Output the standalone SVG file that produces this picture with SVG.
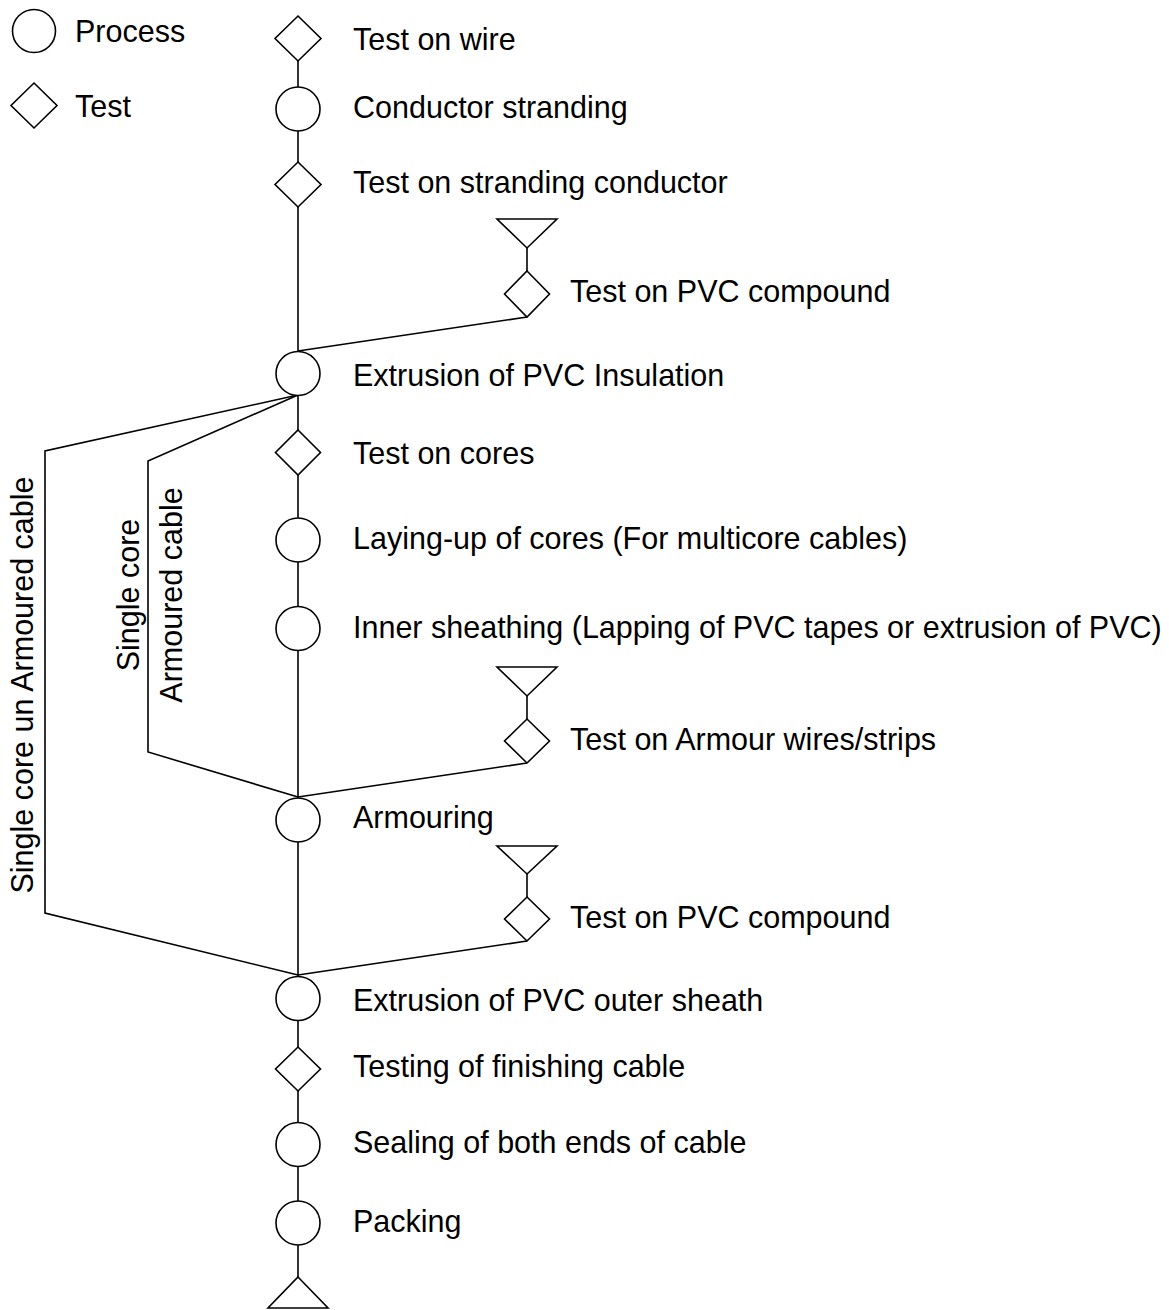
<svg xmlns="http://www.w3.org/2000/svg" width="1169" height="1310" viewBox="0 0 1169 1310">
<style>
.s{fill:#fff;stroke:#000;stroke-width:1.6}
.c{fill:none;stroke:#000;stroke-width:1.6}
text{font-family:"Liberation Sans",Arial,Helvetica,sans-serif;font-size:30.5px;fill:#000}
</style>
<rect width="1169" height="1310" fill="#fff"/>
<g id="connectors">
<polyline class="c" points="298,61 298,87"/>
<polyline class="c" points="298,131 298,162"/>
<polyline class="c" points="298,207 298,352"/>
<polyline class="c" points="527,248 527,271"/>
<polyline class="c" points="527,317 298,351"/>
<polyline class="c" points="298,395 298,430"/>
<polyline class="c" points="298,475 298,518"/>
<polyline class="c" points="298,562 298,607"/>
<polyline class="c" points="298,650 298,798"/>
<polyline class="c" points="527,696 527,719"/>
<polyline class="c" points="527,763 298,797"/>
<polyline class="c" points="298,395 148,461 148,752 298,797"/>
<polyline class="c" points="298,395 45,451 45,913 298,975"/>
<polyline class="c" points="298,842 298,977"/>
<polyline class="c" points="527,874 527,897"/>
<polyline class="c" points="527,941 298,975"/>
<polyline class="c" points="298,1020 298,1047"/>
<polyline class="c" points="298,1091 298,1123"/>
<polyline class="c" points="298,1166 298,1201"/>
<polyline class="c" points="298,1245 298,1277"/>
</g>
<g id="legend-process"><circle class="s" cx="34" cy="31" r="21.5"/><text x="75" y="42">Process</text></g>
<g id="legend-test"><polygon class="s" points="34,83 57,105.5 34,128 11,105.5"/><text x="75" y="117">Test</text></g>
<g id="n1"><polygon class="s" points="298,16 321,38.5 298,61 275,38.5"/><text x="353" y="50">Test on wire</text></g>
<g id="n2"><circle class="s" cx="298" cy="109" r="22"/><text x="353" y="118">Conductor stranding</text></g>
<g id="n3"><polygon class="s" points="298,162 321,184.5 298,207 275,184.5"/><text x="353" y="193">Test on stranding conductor</text></g>
<g id="src1"><polygon class="s" points="497,219 557,219 527,248"/></g>
<g id="n4"><polygon class="s" points="527,271 549.5,294 527,317 504.5,294"/><text x="570" y="302">Test on PVC compound</text></g>
<g id="n5"><circle class="s" cx="298" cy="373.5" r="22"/><text x="353" y="386">Extrusion of PVC Insulation</text></g>
<g id="n6"><polygon class="s" points="298,430 320.5,452.5 298,475 275.5,452.5"/><text x="353" y="464">Test on cores</text></g>
<g id="n7"><circle class="s" cx="298" cy="540" r="22"/><text x="353" y="549">Laying-up of cores (For multicore cables)</text></g>
<g id="n8"><circle class="s" cx="298" cy="628.5" r="22"/><text x="353" y="638">Inner sheathing (Lapping of PVC tapes or extrusion of PVC)</text></g>
<g id="src2"><polygon class="s" points="497,667 557,667 527,696"/></g>
<g id="n9"><polygon class="s" points="527,719 549.5,741 527,763 504.5,741"/><text x="570" y="750">Test on Armour wires/strips</text></g>
<g id="n10"><circle class="s" cx="298" cy="820" r="22"/><text x="353" y="828">Armouring</text></g>
<g id="src3"><polygon class="s" points="497,846 557,846 527,874"/></g>
<g id="n11"><polygon class="s" points="527,897 549.5,919 527,941 504.5,919"/><text x="570" y="928">Test on PVC compound</text></g>
<g id="n12"><circle class="s" cx="298" cy="998.5" r="22"/><text x="353" y="1011">Extrusion of PVC outer sheath</text></g>
<g id="n13"><polygon class="s" points="298,1047 320.5,1069 298,1091 275.5,1069"/><text x="353" y="1077">Testing of finishing cable</text></g>
<g id="n14"><circle class="s" cx="298" cy="1144.5" r="22"/><text x="353" y="1153">Sealing of both ends of cable</text></g>
<g id="n15"><circle class="s" cx="298" cy="1223" r="22"/><text x="353" y="1232">Packing</text></g>
<g id="end"><polygon class="s" points="298,1277 328,1308 268,1308"/></g>
<g id="branch-labels">
<text x="33" y="685" text-anchor="middle" transform="rotate(-90 33 685)">Single core un Armoured cable</text>
<text x="139" y="595" text-anchor="middle" transform="rotate(-90 139 595)">Single core</text>
<text x="182" y="595" text-anchor="middle" transform="rotate(-90 182 595)">Armoured cable</text>
</g>
</svg>
